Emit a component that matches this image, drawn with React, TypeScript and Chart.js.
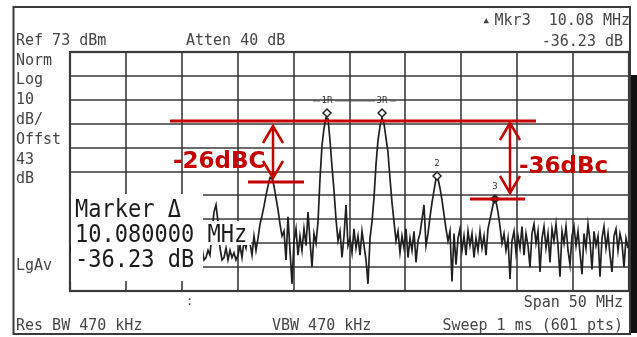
import React, { useEffect, useRef } from "react";
import { Chart, registerables } from "chart.js";

Chart.register(...registerables);

// ---- data ----
// Trace amplitude in dBm, one sample every ~0.179 MHz across the 50 MHz span
const traceDb: number[] = [
  -8, -12, -6, -14, -9, -5, -11, -15, -7, -10,
  -6, -13, -9, -4, -12, -16, -8, -11, -5, -13,
  -9, -14, -7, -3, -10, -15, -8, -12, -6, -11,
  -14, -9, -5, -12, -8, -16, -10, -6, -13, -9,
  -11, -7, -14, -10, -5, -12, -9, -15, -8, -11,
  -6, -13, -10, -8, -14, -11, -7, -12, -9, -13,
  -10, -14, -11, -15, -12, -14, -9, -14, -13, -10,
  -12, -2, 6, 9, 2, -9, -14, -13, -9, -14,
  -10, -13, -11, -14, -12, -8, -13, -6, -9, -3,
  -7, -12, -4, -10, -5, 1, 4.5, 8.5, 13, 17,
  20.5, 20, 17, 12, 7, 1, -4, -2, -14, 4,
  -10, -24, -6, -1, -12, -4, -10, -1, -8, 6,
  -6, -17, -3, -7, 2, 20, 34, 41, 45.5, 45,
  36, 25, 15, 3, -6, -2, -13, -4, 9, -8,
  -5, -11, -1, -9, -4, -12, -2, -8, -14, -24,
  -5, 2, 12, 26, 36, 42, 45.5, 43, 37, 31,
  20, 10, 2, -6, -2, -11, -4, -9, -1, -13,
  -5, -10, -2, -15, -6, -3, 3, 9, -8, -3,
  4, 10, 15, 20, 20, 16, 11, 5, -1, -6,
  -2, -23, -3, -16, -5, -1, -10, -4, -12, -2,
  -8, -3, -13, -5, -10, -2, -9, -4, -12, -1,
  3, 7, 11, 10.5, 6, 0, -7, -3, -10, -5,
  -22, -6, -2, -11, -4, -9, 0, -12, -3, -8,
  -17, -3, 1, -7, -2, -19, -5, 0, -9, -3,
  -15, -1, -6, 1, -8, -21, -2, -7, 0, -10,
  -16, -4, 0, -8, -2, -11, -20, -3, -9, 1,
  -6, -18, -2, -8, -4, -21, -5, 0, -9, -3,
  -12, -19, -4, -1, -10, -3, -7, -17, -5, -9,
];
const START_MHZ = -25;
const STEP_MHZ = 100 / 559;

const markerNames = ["1R", "3R", "2", "3"];
const markerMHz = [-2.01, 2.91, 7.83, 13.01];
const markerDb = [47.5, 47.5, 21.1, 11.5];

const gridMHz = [-25, -20, -15, -10, -5, 0, 5, 10, 15, 20, 25];
const gridDb = [73, 63, 53, 43, 33, 23, 13, 3, -7, -17, -27];

const carrierDb = 44.1;
const spurLineDb = [18.6, 11.5];
const spurLabels = ["-26dBC", "-36dBc"];

const leftLabels = ["Norm", "Log", "10", "dB/", "Offst", "43", "dB"];

const RED = "#c40000";
const MONO = '"DejaVu Sans Mono", monospace';

const drawPlugin = {
  id: "saDecor",
  beforeDraw(chart: any) {
    const ctx = chart.ctx as CanvasRenderingContext2D;
    ctx.save();
    ctx.fillStyle = "#ffffff";
    ctx.fillRect(0, 0, chart.width, chart.height);
    // outer frame
    ctx.strokeStyle = "#3a3a3a";
    ctx.lineWidth = 2;
    ctx.strokeRect(13.5, 7, 616.5, 327);
    ctx.fillStyle = "#111";
    ctx.fillRect(631, 75, 6, 258);
    // instrument texts
    ctx.fillStyle = "#454545";
    ctx.font = `15px ${MONO}`;
    ctx.textAlign = "left";
    ctx.textBaseline = "alphabetic";
    ctx.fillText("Ref 73 dBm", 16, 45);
    ctx.fillText("Atten 40 dB", 186, 45);
    const ys = [65, 84, 104, 124, 144, 164, 183];
    leftLabels.forEach((t, i) => ctx.fillText(t, 16, ys[i]));
    ctx.fillText("LgAv", 16, 270);
    ctx.fillText("Res BW 470 kHz", 16, 330);
    ctx.fillText("VBW 470 kHz", 272, 330);
    ctx.textAlign = "right";
    ctx.fillText("Sweep 1 ms (601 pts)", 623, 330);
    ctx.fillText("Span 50 MHz", 623, 307);
    ctx.fillText("Mkr3  10.08 MHz", 630, 25);
    ctx.fillText("-36.23 dB", 623, 46);
    ctx.font = `9px ${MONO}`;
    ctx.fillText("\u25B2", 489, 23);
    ctx.textAlign = "left";
    ctx.font = `12px ${MONO}`;
    ctx.fillText(":", 186, 305);
    ctx.restore();
  },
  beforeDatasetsDraw(chart: any) {
    const ctx = chart.ctx as CanvasRenderingContext2D;
    const xs = chart.scales.x;
    const ysc = chart.scales.y;
    const a = chart.chartArea;
    ctx.save();
    ctx.strokeStyle = "#3a3a3a";
    ctx.lineWidth = 1.6;
    gridMHz.forEach((v) => {
      const x = Math.round(xs.getPixelForValue(v));
      ctx.beginPath();
      ctx.moveTo(x, a.top);
      ctx.lineTo(x, a.bottom);
      ctx.stroke();
    });
    gridDb.forEach((v) => {
      const y = Math.round(ysc.getPixelForValue(v));
      ctx.beginPath();
      ctx.moveTo(a.left, y);
      ctx.lineTo(a.right, y);
      ctx.stroke();
    });
    ctx.lineWidth = 2.2;
    ctx.strokeRect(a.left, a.top, a.right - a.left, a.bottom - a.top);
    ctx.restore();
  },
  afterDatasetsDraw(chart: any) {
    const ctx = chart.ctx as CanvasRenderingContext2D;
    const xs = chart.scales.x;
    const ysc = chart.scales.y;
    ctx.save();
    // marker labels
    ctx.fillStyle = "#333";
    ctx.strokeStyle = "#555";
    ctx.font = `9px ${MONO}`;
    ctx.textAlign = "center";
    ctx.textBaseline = "middle";
    const mx = markerMHz.map((v) => xs.getPixelForValue(v));
    const my = markerDb.map((v) => ysc.getPixelForValue(v));
    const refY = my[0] - 12;
    ctx.lineWidth = 1;
    ctx.beginPath();
    ctx.moveTo(mx[0] - 14, refY);
    ctx.lineTo(mx[0] - 7, refY);
    ctx.moveTo(mx[0] + 8, refY);
    ctx.lineTo(mx[1] - 7, refY);
    ctx.moveTo(mx[1] + 8, refY);
    ctx.lineTo(mx[1] + 14, refY);
    ctx.stroke();
    ctx.fillText(markerNames[0], mx[0], refY);
    ctx.fillText(markerNames[1], mx[1], refY);
    ctx.fillText(markerNames[2], mx[2], my[2] - 12);
    ctx.fillText(markerNames[3], mx[3], my[3] - 12);

    // marker readout box
    ctx.fillStyle = "#ffffff";
    ctx.fillRect(71, 194, 132, 87);
    ctx.font = `22px ${MONO}`;
    const w2 = ctx.measureText("10.080000 MHz").width;
    ctx.fillRect(71, 221, w2 + 8, 24);
    ctx.fillStyle = "#1c1c1c";
    ctx.textAlign = "left";
    ctx.textBaseline = "alphabetic";
    const tall = (t: string, x: number, y: number) => {
      ctx.save();
      ctx.translate(x, y);
      ctx.scale(1, 1.12);
      ctx.fillText(t, 0, 0);
      ctx.restore();
    };
    tall("Marker \u0394", 75, 217);
    tall("10.080000 MHz", 75, 242);
    tall("-36.23 dB", 75, 267);

    // red annotations
    ctx.strokeStyle = RED;
    ctx.fillStyle = RED;
    ctx.lineCap = "butt";
    ctx.lineWidth = 3;
    const yC = Math.round(ysc.getPixelForValue(carrierDb));
    ctx.beginPath();
    ctx.moveTo(xs.getPixelForValue(-16.06), yC);
    ctx.lineTo(xs.getPixelForValue(16.68), yC);
    ctx.stroke();
    const yL = Math.round(ysc.getPixelForValue(spurLineDb[0]));
    const yR = Math.round(ysc.getPixelForValue(spurLineDb[1]));
    ctx.beginPath();
    ctx.moveTo(xs.getPixelForValue(-9.08), yL);
    ctx.lineTo(xs.getPixelForValue(-4.07), yL);
    ctx.moveTo(xs.getPixelForValue(10.78), yR);
    ctx.lineTo(xs.getPixelForValue(15.7), yR);
    ctx.stroke();
    const arrow = (x: number, y1: number, y2: number) => {
      ctx.lineWidth = 2.5;
      ctx.beginPath();
      ctx.moveTo(x, y1);
      ctx.lineTo(x, y2);
      ctx.moveTo(x - 10, y1 + 17);
      ctx.lineTo(x, y1);
      ctx.lineTo(x + 10, y1 + 17);
      ctx.moveTo(x - 10, y2 - 17);
      ctx.lineTo(x, y2);
      ctx.lineTo(x + 10, y2 - 17);
      ctx.stroke();
    };
    arrow(Math.round(xs.getPixelForValue(-6.84)), yC + 5, yL - 4);
    arrow(Math.round(xs.getPixelForValue(14.36)), yC + 2, yR - 6);
    ctx.font = 'bold 23px "DejaVu Sans", sans-serif';
    ctx.textAlign = "left";
    ctx.fillText(spurLabels[0], 173, 168);
    ctx.fillText(spurLabels[1], 519, 173);
    ctx.restore();
  },
};

export default function App() {
  const ref = useRef<HTMLCanvasElement | null>(null);
  useEffect(() => {
    if (!ref.current) return;
    const trace = traceDb.map((v, i) => ({ x: START_MHZ + i * STEP_MHZ, y: v }));
    const markers = markerMHz.map((f, i) => ({ x: f, y: markerDb[i] }));
    const chart = new Chart(ref.current, {
      type: "scatter",
      data: {
        datasets: [
          {
            label: "markers",
            data: markers,
            order: 0,
            pointStyle: "rectRot",
            pointRadius: 4,
            borderWidth: 1.5,
            borderColor: "#222",
            backgroundColor: ["#fff", "#fff", "#fff", "#333"],
            showLine: false,
          },
          {
            label: "trace",
            data: trace,
            order: 1,
            showLine: true,
            borderColor: "#202020",
            borderWidth: 1.7,
            pointRadius: 0,
            tension: 0,
          },
        ],
      },
      options: {
        animation: false,
        responsive: false,
        devicePixelRatio: 1,
        layout: { padding: { left: 70, right: 8, top: 52, bottom: 46 } },
        plugins: { legend: { display: false }, tooltip: { enabled: false } },
        scales: {
          x: { type: "linear", min: -25, max: 25, display: false },
          y: { type: "linear", min: -27, max: 73, display: false },
        },
      },
      plugins: [drawPlugin],
    });
    return () => chart.destroy();
  }, []);
  return (
    <canvas
      ref={ref}
      width={637}
      height={337}
      style={{ position: "fixed", left: 0, top: 0, width: 637, height: 337 }}
    />
  );
}
